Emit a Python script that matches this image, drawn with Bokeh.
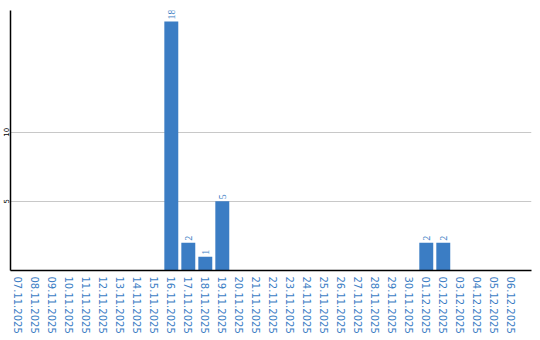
import math
from bokeh.plotting import figure
from bokeh.models import ColumnDataSource, Range1d, FixedTicker, LabelSet
from bokeh.embed import file_html
from bokeh.resources import INLINE

dates = ["07.11.2025", "08.11.2025", "09.11.2025", "10.11.2025", "11.11.2025",
         "12.11.2025", "13.11.2025", "14.11.2025", "15.11.2025", "16.11.2025",
         "17.11.2025", "18.11.2025", "19.11.2025", "20.11.2025", "21.11.2025",
         "22.11.2025", "23.11.2025", "24.11.2025", "25.11.2025", "26.11.2025",
         "27.11.2025", "28.11.2025", "29.11.2025", "30.11.2025", "01.12.2025",
         "02.12.2025", "03.12.2025", "04.12.2025", "05.12.2025", "06.12.2025"]
counts = [0, 0, 0, 0, 0, 0, 0, 0, 0, 18,
          2, 1, 5, 0, 0, 0, 0, 0, 0, 0,
          0, 0, 0, 0, 2, 2, 0, 0, 0, 0]
y_ticks = [5, 10]

BLUE = "#3b7dc4"
FONT = "DejaVu Sans"

idx = list(range(len(dates)))
src = ColumnDataSource(dict(x=idx, top=counts))
nz = [i for i, c in enumerate(counts) if c > 0]
lab = ColumnDataSource(dict(x=nz, y=[counts[i] for i in nz],
                            t=[str(counts[i]) for i in nz]))

p = figure(width=540, height=340, output_backend="svg", toolbar_location=None,
           x_range=Range1d(-0.46, 30.19), y_range=Range1d(0, 18.8),
           min_border_left=0, min_border_top=10, min_border_right=9,
           min_border_bottom=70)
p.outline_line_color = None
p.background_fill_color = "white"

p.vbar(x="x", top="top", width=0.82, bottom=0, source=src,
       fill_color=BLUE, line_color=None)
labels = LabelSet(x="x", y="y", text="t", source=lab, angle=math.pi / 2,
                  text_align="left", text_baseline="middle", y_offset=2,
                  text_color=BLUE, text_font=FONT, text_font_size="10px")
p.add_layout(labels)

p.xgrid.visible = False
p.ygrid.grid_line_color = "#c8c8c8"
p.ygrid.ticker = FixedTicker(ticks=y_ticks)

xa = p.xaxis[0]
xa.ticker = FixedTicker(ticks=idx)
xa.major_label_overrides = {i: d for i, d in enumerate(dates)}
xa.major_label_orientation = "vertical"
xa.major_label_text_color = BLUE
xa.major_label_text_font = FONT
xa.major_label_text_font_size = "10px"
xa.major_label_standoff = 6
xa.major_tick_out = 0
xa.major_tick_in = 0
xa.minor_tick_out = 0
xa.minor_tick_in = 0
xa.axis_line_color = "black"
xa.axis_line_width = 1.5

ya = p.yaxis[0]
ya.ticker = FixedTicker(ticks=y_ticks)
ya.major_label_orientation = "vertical"
ya.major_label_text_color = "black"
ya.major_label_text_font = FONT
ya.major_label_text_font_size = "7px"
ya.major_label_standoff = 1
ya.major_tick_out = 0
ya.major_tick_in = 0
ya.minor_tick_out = 0
ya.minor_tick_in = 0
ya.axis_line_color = "black"
ya.axis_line_width = 1.5

open("out.html", "w").write(file_html(p, INLINE))
